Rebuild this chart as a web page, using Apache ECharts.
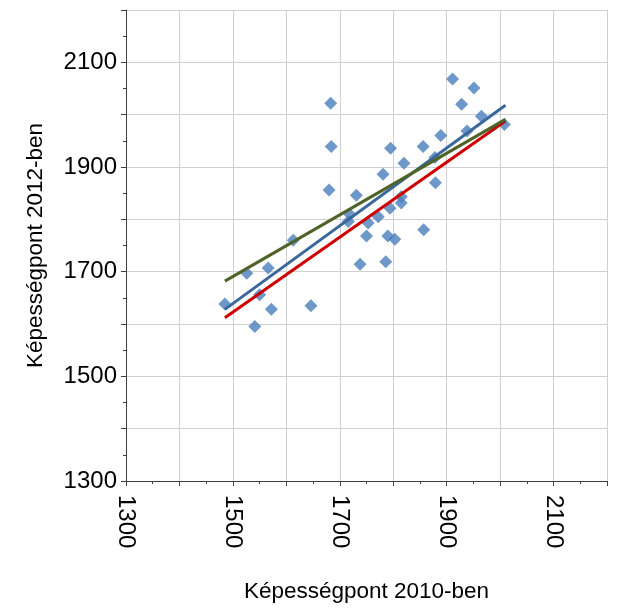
<!DOCTYPE html>
<html>
<head>
<meta charset="utf-8">
<script src="https://cdn.jsdelivr.net/npm/echarts@6/dist/echarts.min.js"></script>
<style>
  html, body { margin: 0; padding: 0; background: #fff; }
  #chart { width: 621px; height: 610px; }
</style>
</head>
<body>
<div id="chart"></div>
<script>
// pontok: [2010, 2012]
const points = [
  [1485, 1638], [1526, 1697], [1566, 1707], [1613, 1760], [1550, 1656],
  [1572, 1628], [1541, 1595], [1646, 1635], [1738, 1714], [1786, 1719],
  [1750, 1768], [1790, 1768], [1803, 1762], [1857, 1780], [1716, 1796],
  [1719, 1809], [1753, 1793], [1772, 1805], [1794, 1821], [1815, 1831],
  [1815, 1843], [1731, 1846], [1680, 1856], [1781, 1886], [1820, 1907],
  [1879, 1870], [1878, 1918], [1795, 1936], [1856, 1939], [1889, 1960],
  [1938, 1969], [1965, 1997], [2008, 1981], [1928, 2020], [1951, 2051],
  [1911, 2068], [1684, 1939], [1683, 2022]
]

// trendvonalak végpontjai
const blueLine = [[1485, 1628], [2010, 2018]]
const redLine = [[1485, 1612], [2010, 1988]]
const greenLine = [[1485, 1682], [2010, 1991]]

const axisMin = 1300
const axisMax = 2200
const axisStep = 100

const chart = echarts.init(document.getElementById('chart'), null, { renderer: 'canvas' })

function tickLabel (v) {
  return (v - axisMin) % 200 === 0 ? String(v) : ''
}

function makeAxis (name, isX) {
  return {
    type: 'value',
    min: axisMin,
    max: axisMax,
    interval: axisStep,
    name: name,
    nameLocation: 'middle',
    nameGap: isX ? 99 : 79,
    nameTextStyle: { fontFamily: 'Liberation Sans', fontSize: 22.5, color: '#000' },
    axisLine: { show: true, onZero: false, lineStyle: { color: '#404040', width: 1 } },
    axisTick: { show: true, inside: false, length: 5, lineStyle: { color: '#404040' } },
    minorTick: { show: true, splitNumber: 2, length: 3, lineStyle: { color: '#404040' } },
    splitLine: { show: true, lineStyle: { color: '#d0d0d0', width: 1 } },
    axisLabel: {
      formatter: tickLabel,
      fontFamily: 'Liberation Sans',
      fontSize: 24,
      color: '#000',
      margin: isX ? 14 : 9,
      rotate: isX ? -90 : 0,
      showMinLabel: true,
      showMaxLabel: true
    }
  }
}

const option = {
  animation: false,
  backgroundColor: '#fff',
  grid: { left: 126, right: 14, top: 10, bottom: 129, containLabel: false },
  xAxis: makeAxis('Képességpont 2010-ben', true),
  yAxis: makeAxis('Képességpont 2012-ben', false),
  series: [
    {
      type: 'scatter',
      symbol: 'diamond',
      symbolSize: 13,
      data: points,
      itemStyle: { color: '#4a7ebb' },
      z: 2
    },
    {
      type: 'line',
      data: redLine,
      showSymbol: false,
      lineStyle: { color: '#d00000', width: 3 },
      z: 3
    },
    {
      type: 'line',
      data: blueLine,
      showSymbol: false,
      lineStyle: { color: '#3a679c', width: 3 },
      z: 4
    },
    {
      type: 'line',
      data: greenLine,
      showSymbol: false,
      lineStyle: { color: '#4f6228', width: 3 },
      z: 5
    }
  ]
}

chart.setOption(option)
</script>
</body>
</html>
